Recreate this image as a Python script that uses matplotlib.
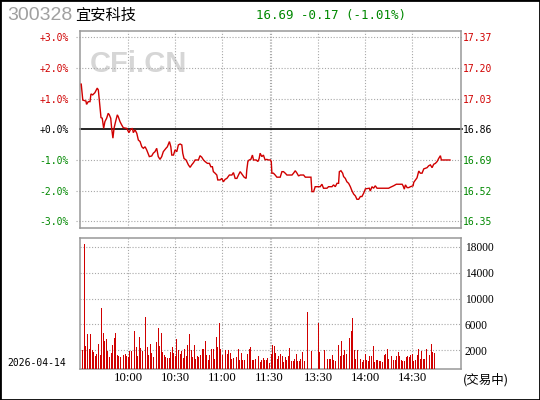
import numpy as np
import matplotlib
matplotlib.use("Agg")
import matplotlib.pyplot as plt
from matplotlib.patches import Rectangle

# ---------------- data ----------------
stock_code = "300328"
stock_name = "宜安科技"
date_label = "2026-04-14"
status_label = "(交易中)"
quote_label = "16.69 -0.17 (-1.01%)"
watermark = "CFi.CN"

pct_ticks = [3, 2, 1, 0, -1, -2, -3]
pct_labels = ["+3.0%", "+2.0%", "+1.0%", "+0.0%", "-1.0%", "-2.0%", "-3.0%"]
price_labels = ["17.37", "17.20", "17.03", "16.86", "16.69", "16.52", "16.35"]

vol_ticks = [2000, 6000, 10000, 14000, 18000]
vol_labels = ["2000", "6000", "10000", "14000", "18000"]

time_ticks = [30, 60, 90, 120, 151, 181, 211]
time_labels = ["10:00", "10:30", "11:00", "11:30", "13:30", "14:00", "14:30"]

# price line: minute slot and % change vs previous close
price_minutes = [
    0, 1, 3, 3.4, 4.5, 5.6, 6.2, 7.3, 8.7, 10.2, 10.9, 11.9, 12.6, 13.4, 14.3, 15.1,
    16.2, 17.2, 17.9, 18.8, 19.4, 20.2, 20.9, 21.9, 23, 23.6, 24.7, 25.8, 26.8, 29,
    30.4, 31.5, 32.6, 33.2, 34.3, 35.4, 36.4, 37.5, 38.6, 39.6, 40.7, 41.7, 43.4,
    44.9, 45.9, 47, 48.1, 49.1, 50.2, 51.3, 52.3, 54, 54.9, 56.2, 57.1, 57.7, 58.8,
    59.8, 60.9, 61.9, 63, 64.1, 64.7, 65.5, 66.8, 68.3, 69.4, 70.4, 71.5, 72.6, 74.7,
    75.7, 76.8, 77.9, 78.9, 80.4, 81.7, 82.6, 83.6, 84.2, 85.3, 86.4, 87, 88.5, 89.6,
    90.6, 91.7, 92.8, 94.4, 96, 97, 98.1, 99.2, 100.2, 101.3, 102.4, 103.8, 105.1,
    105.5, 106.2, 107, 108.1, 109.1, 109.8, 111.5, 112.6, 113.4, 114, 115.1, 116.1,
    117.2, 118.3, 119.3, 120.6,
    121.1, 121.5, 122.5, 123.6, 124.7, 126.8, 127.9, 128.9, 130, 131.1, 134.3, 135.3,
    136.4, 137.5, 138.5, 139.6, 141.7, 142.8, 146.4, 147, 148.1, 149.1, 152.3, 153.4,
    154.4, 156.6, 157.6, 159.8, 160.8, 161.9, 163, 164, 164.5, 165.5, 166.6, 167.2,
    168.3, 169.3, 170.4, 171.5, 172.5, 173.6, 174.7, 175.7, 176.8, 177.9, 178.9, 180,
    181.1, 183.6, 184.2, 185.3, 186.3, 187.4, 188.5, 195.9, 197, 199.1, 200.8, 204.5,
    205.1, 205.9, 206.6, 207.7, 208.7, 209.8, 211.5, 211.9, 213, 214, 215.1, 216.1,
    217.2, 218.3, 219.3, 220.4, 221.4, 222.5, 223.6, 224.6, 225.7, 226.8, 227.8,
    228.9, 229.5, 235,
]
price_pct = [
    1.47, 0.95, 0.92, 0.81, 0.9, 0.9, 1.15, 1.12, 1.19, 1.34, 1.28, 0.74, 0.38, 0.36,
    0.03, 0.25, 0.36, 0.52, 0.47, 0.36, 0.03, -0.29, 0.03, 0.25, 0.47, 0.41, 0.25,
    0.14, 0.05, 0.03, -0.11, 0, 0.03, -0.11, -0.02, -0.13, -0.35, -0.4, -0.57, -0.62,
    -0.57, -0.67, -0.89, -0.87, -0.78, -0.73, -0.62, -0.89, -0.98, -0.89, -0.73,
    -0.62, -0.57, -0.4, -0.57, -0.84, -0.84, -0.67, -0.73, -0.51, -0.48, -0.51, -0.78,
    -0.95, -1.0, -1.16, -1.24, -1.16, -1.09, -1.0, -1.0, -0.86, -0.91, -1.0, -1.05,
    -1.11, -1.11, -1.22, -1.22, -1.38, -1.43, -1.49, -1.65, -1.65, -1.6, -1.71, -1.63,
    -1.6, -1.49, -1.49, -1.41, -1.6, -1.6, -1.49, -1.38, -1.46, -1.56, -1.6, -1.33,
    -1.05, -1.0, -0.98, -0.84, -1.0, -1.0, -1.05, -0.95, -0.78, -0.89, -0.84, -1.0,
    -0.98, -1.0, -1.0,
    -1.05, -1.43, -1.43, -1.49, -1.56, -1.56, -1.38, -1.38, -1.43, -1.49, -1.49,
    -1.43, -1.35, -1.43, -1.52, -1.49, -1.49, -1.56, -1.56, -2.03, -2.03, -1.87,
    -1.87, -1.79, -1.92, -1.92, -1.87, -1.87, -1.81, -1.87, -1.76, -1.76, -1.38,
    -1.35, -1.43, -1.54, -1.6, -1.71, -1.76, -1.87, -2.0, -2.11, -2.17, -2.28, -2.28,
    -2.19, -2.19, -2.08, -1.94, -1.92, -2.01, -1.87, -1.92, -1.84, -1.92, -1.92,
    -1.89, -1.84, -1.79, -1.79, -1.84, -1.95, -1.81, -1.9, -1.9, -1.87, -1.84, -1.73,
    -1.65, -1.58, -1.36, -1.43, -1.43, -1.29, -1.27, -1.25, -1.19, -1.16, -1.25,
    -1.14, -1.11, -1.05, -0.95, -0.86, -1.0, -1.0,
]

# per-minute volume (None = no bar)
vol_am = [
    2060, 18400, 2670, 4530, 2160, 4530, 2060, 1800, 1180, 1440, 2980, 1280, 8550, 4680,
    3450, 3760, 1950, 1020, 1640, 2830, 3910, 4680, 1280, 1130, 970, 1280, 1280, 1440,
    1180, 970, 1950, 1950, 2320, 4990, 2520, 1180, 4060, 2320, 1950, 1280, 7160, 2520,
    1280, 2980, 1640, 970, 2160, 3340, 5410, 2670, 4680, 1800, 1280, 970, 770, 880,
    1800, 2520, 1640, 1180, 3760, 2060, 1440, 1950, 880, 2220, 1180, 2830, 4530, 2060,
    970, 2830, 670, 1180, 970, 1280, 2220, 2160, 3450, 1280, 460, 1280, 2160, 2160,
    670, 4060, 2520, 6230, 2160, 1280, 1180, 2060, 1440, 2060, 1640, 670, 770, 460,
    970, 2220, 460, 1640, 460, 460, 1180, 1490, 2160, 2520, 460, 460, 670, 510, 1180,
    250, 460, 820, 460, 460, 770, 100,
]
vol_pm = [
    1440, 2830, 2670, 1590, 670, 1180, 1440, 1070, 250, 970, 460, 1130, 2320, 360, 360,
    670, 1440, 360, 360, 670, 1800, 360, None, 7930, None, None, 1950, None, None, None,
    6230, 1700, None, None, 2010, 1130, 670, 670, 670, 1280, 460, 360, 2520, 2830, 1130,
    3450, 1280, 2060, 1440, 2220, 3910, 4990, 7000, 2060, 670, 2000, 6850, 670, 250,
    460, 1440, 460, 360, 1130, 1130, 2670, 250, 460, 460, 360, 360, 200, 1280, 1440,
    2220, 670, None, 1130, 460, 460, 1130, 1750, 1130, 460, 360, 360, 910, 1130, 910,
    1280, 1440, 360, 460, 1280, 2220, 670, 1950, 670, 670, 2220, 1440, 1280, 2980,
    1750, 1590,
]

# ---------------- style ----------------
RED = "#d00000"
GREEN = "#008800"
GRID = "#a8a8a8"
FRAME = "#999999"
W, H = 540, 400

def fx(px):
    return px / W

def fy(py):
    return 1 - py / H

plt.rcParams["font.family"] = ["DejaVu Sans"]
fig = plt.figure(figsize=(W / 100, H / 100), dpi=100)
fig.patch.set_facecolor("white")

XMIN, XMAX = -0.78, 241.7
dot = (0, (1, 1.6))

# ---------------- price panel ----------------
ax = fig.add_axes([fx(80), fy(228), fx(460.5) - fx(80), fy(31) - fy(228)])
ax.set_xlim(XMIN, XMAX)
ax.set_ylim(-3.215, 3.20)
for s in ax.spines.values():
    s.set_color(FRAME)
    s.set_linewidth(1.1)

for t in pct_ticks:
    if t == 0:
        ax.axhline(0, xmin=0, xmax=1.004, color="black", lw=1.2, zorder=2, clip_on=False)
    else:
        ax.axhline(t, xmin=-0.011, xmax=1.005, color=GRID, lw=0.8, ls=dot, zorder=1, clip_on=False)
for t in time_ticks:
    ax.axvline(t, color=GRID, lw=0.8, ls=dot, zorder=1)
ax.axvline(121, color=GRID, lw=0.8, ls=dot, zorder=1)

ax.plot(price_minutes, price_pct, color=RED, lw=1.0, zorder=3, solid_joinstyle="miter")

ax.set_xticks([])
ax.set_yticks(pct_ticks)
ax.set_yticklabels(pct_labels, family="DejaVu Sans Mono", fontsize=7)
ax.tick_params(axis="y", length=0, pad=8)
ax2 = ax.twinx()
ax2.set_ylim(ax.get_ylim())
ax2.set_yticks(pct_ticks)
ax2.set_yticklabels(price_labels, family="DejaVu Sans Mono", fontsize=7)
ax2.tick_params(axis="y", length=0, pad=2)
for s in ax2.spines.values():
    s.set_visible(False)

def pcol(v):
    return RED if v > 0 else (GREEN if v < 0 else "black")

for lab, v in zip(ax.get_yticklabels(), pct_ticks):
    lab.set_color(pcol(v))
for lab, v in zip(ax2.get_yticklabels(), pct_ticks):
    lab.set_color(pcol(v))

ax.text(fx(90), fy(64), watermark, transform=fig.transFigure, fontsize=21,
        fontweight="bold", family="Liberation Sans", color="#d6d6d6",
        ha="left", va="center", zorder=0)

# ---------------- volume panel ----------------
axv = fig.add_axes([fx(80), fy(369), fx(460.5) - fx(80), fy(238.5) - fy(369)])
axv.set_xlim(XMIN, XMAX)
VBOT, VTOP = -880, 19270
axv.set_ylim(VBOT, VTOP)
for s in axv.spines.values():
    s.set_color(FRAME)
    s.set_linewidth(1.1)
for t in vol_ticks:
    axv.axhline(t, color=GRID, lw=0.8, ls=dot, zorder=1)
for t in time_ticks:
    axv.axvline(t, color=GRID, lw=0.8, ls=dot, zorder=1)
axv.axvline(121, color=GRID, lw=0.8, ls=dot, zorder=1)

am_x = np.arange(1, len(vol_am) + 1)
pm_x = np.arange(121, 121 + len(vol_pm))
vx = np.concatenate([am_x, pm_x])
vv = np.array([np.nan if v is None else v for v in vol_am + vol_pm], dtype=float)
ok = ~np.isnan(vv)
axv.bar(vx[ok], vv[ok] - VBOT, bottom=VBOT, width=0.6, color=RED, zorder=3,
        linewidth=0)

axv.set_yticks(vol_ticks)
axv.set_yticklabels(vol_labels, family="Liberation Serif", fontsize=8.3)
axv.yaxis.tick_right()
axv.tick_params(axis="y", length=0, pad=3)
axv.set_xticks(time_ticks)
axv.set_xticklabels(time_labels, family="Liberation Serif", fontsize=9.2)
axv.tick_params(axis="x", length=0, pad=2)

# ---------------- header / footer text ----------------
fig.text(fx(7.5), fy(16), stock_code, family="Liberation Sans", fontsize=14,
         color="#a0a0a0", ha="left", va="center")
fig.text(fx(75), fy(15.5), stock_name, family=["Noto Sans CJK SC", "DejaVu Sans"],
         fontsize=11, color="black", ha="left", va="center")
fig.text(fx(256), fy(15.5), quote_label, family="DejaVu Sans Mono", fontsize=9,
         color=GREEN, ha="left", va="center")
fig.text(fx(7), fy(362.5), date_label, family="DejaVu Sans Mono", fontsize=7,
         color="black", ha="left", va="center")
fig.text(fx(463), fy(380), status_label, family=["Noto Sans CJK SC", "DejaVu Sans"],
         fontsize=9, color="black", ha="left", va="center")

fig.add_artist(Rectangle((0, 0), 1, 1, transform=fig.transFigure, fill=False,
                         edgecolor="black", linewidth=2.0))

fig.savefig("out.png", dpi=100, facecolor="white")
